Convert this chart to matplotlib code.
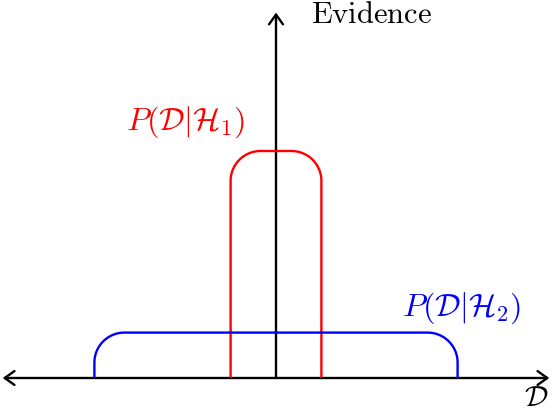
import numpy as np
import matplotlib
matplotlib.use("Agg")
import matplotlib.pyplot as plt

plt.rcParams['mathtext.fontset'] = 'cm'

# Data
hypotheses = ["H1", "H2"]
half_widths = [1.0, 4.0]     # support of each evidence distribution (symmetric)
heights = [5.0, 1.0]         # evidence level
colors = ["#ff0000", "#0000ff"]
labels = [r"$P(\mathcal{D}|\mathcal{H}_1)$", r"$P(\mathcal{D}|\mathcal{H}_2)$"]
label_pos = [(-2.0, 5.64), (4.1, 1.54)]
x_axis_range = [-6.02, 6.02]
y_axis_top = 8.05
corner_r = 0.66

u = 45.4  # px per unit
W, H = 552, 412
x0px, y0px = 276, 378
fig = plt.figure(figsize=(W/100, H/100), dpi=100)
ax = fig.add_axes([0, 0, 1, 1])
ax.set_xlim(-x0px/u, (W-x0px)/u)
ax.set_ylim(-(H-y0px)/u, y0px/u)
ax.axis('off')

def rounded(hw, h, r):
    t1 = np.linspace(np.pi, np.pi/2, 30)
    t2 = np.linspace(np.pi/2, 0, 30)
    xs = [-hw] + list(-hw + r + r*np.cos(t1)) + list(hw - r + r*np.cos(t2)) + [hw]
    ys = [0] + list(h - r + r*np.sin(t1)) + list(h - r + r*np.sin(t2)) + [0]
    return xs, ys

head = ",head_length=0.7,head_width=0.5"
ax.annotate("", xy=(x_axis_range[1], 0), xytext=(x_axis_range[0], 0),
            arrowprops=dict(arrowstyle="<->" + head, lw=1.7, color="black",
                            shrinkA=0, shrinkB=0))
ax.annotate("", xy=(0, y_axis_top), xytext=(0, 0),
            arrowprops=dict(arrowstyle="->" + head, lw=1.7, color="black",
                            shrinkA=0, shrinkB=0))

for hw, h, c, lab, pos in zip(half_widths, heights, colors, labels, label_pos):
    xs, ys = rounded(hw, h, corner_r)
    ax.plot(xs, ys, color=c, lw=1.7, solid_capstyle='butt', zorder=3)
    ax.text(pos[0], pos[1], lab, color=c, fontsize=23, ha='center', va='center')

ax.text(0.78, 8.0, r"$\mathrm{Evidence}$", fontsize=22, ha='left', va='center')
ax.text(5.73, -0.44, r"$\mathcal{D}$", fontsize=21, ha='center', va='center')

fig.savefig("out.png", dpi=100)
